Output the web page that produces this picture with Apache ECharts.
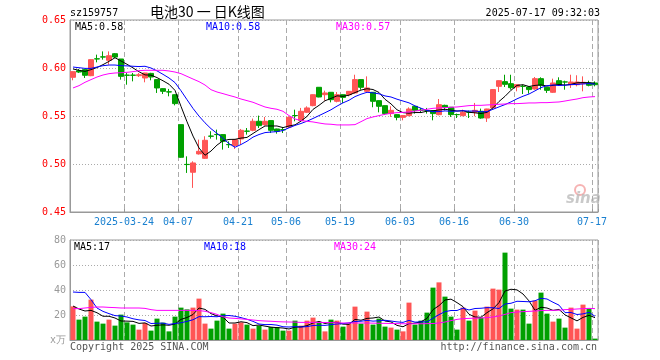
<!DOCTYPE html>
<html>
<head>
<meta charset="utf-8">
<script src="https://cdn.jsdelivr.net/npm/echarts@6/dist/echarts.min.js"></script>
<style>
html,body{margin:0;padding:0;background:#fff;}
#c{width:660px;height:360px;}
</style>
</head>
<body>
<div id="c"></div>
<script>
var dates = ["2025-03-11","2025-03-12","2025-03-13","2025-03-14","2025-03-17","2025-03-18","2025-03-19","2025-03-20","2025-03-21",
"2025-03-24","2025-03-25","2025-03-26","2025-03-27","2025-03-28","2025-03-31","2025-04-01","2025-04-02","2025-04-03",
"2025-04-07","2025-04-08","2025-04-09","2025-04-10","2025-04-11","2025-04-14","2025-04-15","2025-04-16","2025-04-17","2025-04-18",
"2025-04-21","2025-04-22","2025-04-23","2025-04-24","2025-04-25","2025-04-28","2025-04-29","2025-04-30",
"2025-05-06","2025-05-07","2025-05-08","2025-05-09","2025-05-12","2025-05-13","2025-05-14","2025-05-15","2025-05-16",
"2025-05-19","2025-05-20","2025-05-21","2025-05-22","2025-05-23","2025-05-26","2025-05-27","2025-05-28","2025-05-29","2025-05-30",
"2025-06-03","2025-06-04","2025-06-05","2025-06-06","2025-06-09","2025-06-10","2025-06-11","2025-06-12","2025-06-13",
"2025-06-16","2025-06-17","2025-06-18","2025-06-19","2025-06-20","2025-06-23","2025-06-24","2025-06-25","2025-06-26","2025-06-27",
"2025-06-30","2025-07-01","2025-07-02","2025-07-03","2025-07-04","2025-07-07","2025-07-08","2025-07-09","2025-07-10","2025-07-11",
"2025-07-14","2025-07-15","2025-07-16","2025-07-17"];

var tickDates = ["2025-03-24","2025-04-07","2025-04-21","2025-05-06","2025-05-19","2025-06-03","2025-06-16","2025-06-30","2025-07-17"];

var opens = [0.5903,0.5972,0.5983,0.5920,0.6096,0.6116,0.6080,0.6149,0.6094,0.5926,0.5926,0.5920,0.5896,0.5944,0.5879,0.5785,0.5752,0.5722,
0.5410,0.4996,0.4914,0.5105,0.5059,0.5291,0.5308,0.5306,0.5203,0.5192,0.5261,0.5343,0.5351,0.5445,0.5410,0.5452,0.5365,0.5358,
0.5386,0.5505,0.5452,0.5539,0.5608,0.5799,0.5722,0.5747,0.5653,0.5722,0.5722,0.5740,0.5879,0.5757,0.5747,0.5660,0.5608,0.5525,0.5514,
0.5486,0.5504,0.5601,0.5561,0.5558,0.5556,0.5514,0.5611,0.5591,0.5515,0.5504,0.5540,0.5539,0.5549,0.5479,0.5584,0.5809,0.5858,0.5837,
0.5802,0.5810,0.5802,0.5781,0.5889,0.5799,0.5747,0.5868,0.5855,0.5826,0.5826,0.5837,0.5844,0.5844];
var closes = [0.5962,0.5958,0.5924,0.6087,0.6094,0.6114,0.6128,0.6114,0.5913,0.5924,0.5924,0.5930,0.5948,0.5906,0.5792,0.5757,0.5750,0.5629,
0.5070,0.4994,0.5011,0.5132,0.5247,0.5289,0.5306,0.5236,0.5201,0.5254,0.5351,0.5341,0.5445,0.5400,0.5445,0.5351,0.5341,0.5356,
0.5486,0.5504,0.5549,0.5584,0.5722,0.5698,0.5740,0.5670,0.5722,0.5694,0.5757,0.5879,0.5799,0.5792,0.5653,0.5601,0.5525,0.5559,0.5486,
0.5504,0.5573,0.5559,0.5559,0.5556,0.5525,0.5618,0.5591,0.5514,0.5514,0.5539,0.5538,0.5559,0.5479,0.5573,0.5775,0.5868,0.5830,0.5795,
0.5826,0.5809,0.5775,0.5889,0.5820,0.5767,0.5844,0.5826,0.5854,0.5854,0.5854,0.5851,0.5820,0.5826];
var lows = [0.5872,0.5948,0.5896,0.5915,0.6059,0.6087,0.6035,0.6104,0.5879,0.5826,0.5861,0.5906,0.5851,0.5872,0.5740,0.5729,0.5705,0.5611,
0.5065,0.4907,0.4751,0.5098,0.5052,0.5264,0.5254,0.5150,0.5167,0.5157,0.5202,0.5306,0.5341,0.5375,0.5400,0.5323,0.5316,0.5323,
0.5375,0.5445,0.5445,0.5532,0.5601,0.5695,0.5660,0.5642,0.5642,0.5636,0.5705,0.5733,0.5774,0.5747,0.5591,0.5538,0.5511,0.5490,0.5455,
0.5455,0.5497,0.5525,0.5539,0.5525,0.5455,0.5507,0.5559,0.5490,0.5479,0.5497,0.5479,0.5497,0.5472,0.5438,0.5580,0.5750,0.5802,0.5774,
0.5757,0.5729,0.5733,0.5774,0.5774,0.5740,0.5740,0.5816,0.5774,0.5792,0.5809,0.5757,0.5809,0.5809];
var highs = [0.5965,0.5990,0.5990,0.6090,0.6139,0.6173,0.6173,0.6156,0.6094,0.5948,0.5948,0.5948,0.5950,0.5950,0.5880,0.5790,0.5782,0.5725,
0.5410,0.5080,0.5028,0.5254,0.5289,0.5341,0.5358,0.5310,0.5236,0.5256,0.5365,0.5375,0.5473,0.5504,0.5490,0.5455,0.5368,0.5386,
0.5497,0.5566,0.5584,0.5601,0.5725,0.5802,0.5764,0.5750,0.5750,0.5725,0.5760,0.5930,0.5882,0.5913,0.5750,0.5663,0.5610,0.5601,0.5517,
0.5507,0.5590,0.5604,0.5584,0.5584,0.5558,0.5677,0.5618,0.5594,0.5525,0.5566,0.5556,0.5636,0.5577,0.5575,0.5780,0.5870,0.5930,0.5930,
0.5830,0.5826,0.5805,0.5906,0.5903,0.5802,0.5889,0.5903,0.5868,0.5930,0.5924,0.5913,0.5868,0.5861];

var ma5 = [0.5990,0.5976,0.5965,0.5983,0.6005,0.6035,0.6069,0.6107,0.6073,0.6039,0.6001,0.5961,0.5928,0.5926,0.5900,0.5867,0.5831,0.5767,
0.5600,0.5440,0.5291,0.5167,0.5091,0.5135,0.5197,0.5242,0.5256,0.5257,0.5270,0.5277,0.5318,0.5358,0.5396,0.5396,0.5396,0.5379,
0.5396,0.5408,0.5447,0.5496,0.5569,0.5611,0.5659,0.5683,0.5710,0.5705,0.5717,0.5744,0.5770,0.5784,0.5776,0.5745,0.5674,0.5626,0.5565,
0.5535,0.5529,0.5536,0.5536,0.5550,0.5554,0.5563,0.5570,0.5561,0.5552,0.5555,0.5539,0.5533,0.5526,0.5538,0.5585,0.5651,0.5705,0.5768,
0.5819,0.5826,0.5807,0.5819,0.5824,0.5812,0.5819,0.5829,0.5822,0.5829,0.5846,0.5848,0.5847,0.5841];
var ma10 = [0.6010,0.6003,0.5996,0.5996,0.6010,0.6024,0.6031,0.6031,0.6024,0.6022,0.6018,0.6015,0.6018,0.6000,0.5970,0.5934,0.5896,0.5848,
0.5763,0.5670,0.5579,0.5499,0.5429,0.5368,0.5319,0.5267,0.5212,0.5174,0.5203,0.5237,0.5280,0.5307,0.5327,0.5333,0.5337,0.5349,
0.5377,0.5402,0.5422,0.5446,0.5474,0.5504,0.5534,0.5565,0.5603,0.5637,0.5664,0.5702,0.5727,0.5747,0.5741,0.5731,0.5709,0.5698,0.5675,
0.5656,0.5637,0.5605,0.5581,0.5558,0.5545,0.5546,0.5553,0.5549,0.5551,0.5555,0.5551,0.5552,0.5544,0.5545,0.5570,0.5595,0.5619,0.5647,
0.5679,0.5706,0.5729,0.5762,0.5796,0.5816,0.5823,0.5818,0.5821,0.5827,0.5829,0.5834,0.5838,0.5832];
var ma30 = [0.5792,0.5816,0.5851,0.5879,0.5906,0.5927,0.5941,0.5948,0.5951,0.5955,0.5962,0.5972,0.5976,0.5976,0.5976,0.5976,0.5969,0.5958,
0.5941,0.5913,0.5885,0.5858,0.5823,0.5774,0.5750,0.5733,0.5715,0.5698,0.5677,0.5660,0.5643,0.5618,0.5594,0.5580,0.5570,0.5549,
0.5504,0.5469,0.5452,0.5445,0.5438,0.5427,0.5417,0.5414,0.5407,0.5407,0.5407,0.5410,0.5441,0.5473,0.5490,0.5504,0.5518,0.5528,0.5535,
0.5538,0.5542,0.5552,0.5559,0.5570,0.5580,0.5584,0.5587,0.5591,0.5594,0.5601,0.5608,0.5611,0.5611,0.5615,0.5618,0.5622,0.5625,0.5629,
0.5629,0.5632,0.5636,0.5636,0.5639,0.5639,0.5643,0.5646,0.5656,0.5667,0.5677,0.5691,0.5698,0.5702];

var volumes = [26.9,16.3,18.7,32.3,14.7,13.1,16.3,11.5,20.3,14.1,12.3,8.3,13.6,7.5,17.1,13.9,6.9,18.7,
25.9,24.5,25.9,33.1,13.1,9.1,15.5,21.1,9.1,13.1,14.1,12.3,9.1,11.5,8.3,10.4,10.4,7.5,
7.5,15.5,11.5,15.5,17.9,14.1,6.9,16.3,15.5,10.7,13.1,26.7,13.1,22.7,12.3,17.1,10.7,9.9,8.3,
6.9,29.9,12.3,15.5,21.9,41.9,46.1,34.7,18.7,8.3,25.9,15.5,23.5,17.9,26.7,41.1,40.3,69.9,25.1,
24.3,24.3,13.1,31.5,37.9,21.1,14.7,17.1,9.9,25.9,9.1,28.3,25.1,1.1];
var volMa5 = [27.2,24.8,23.2,23.7,21.8,19.0,19.0,17.6,15.2,15.1,14.9,13.3,13.7,11.2,11.8,12.1,11.8,12.8,
16.5,18.0,20.4,25.6,24.5,21.1,19.3,18.4,13.6,13.6,14.6,13.9,11.5,12.0,11.1,10.3,9.9,9.6,
8.8,10.3,10.5,11.5,13.6,14.9,13.2,14.1,14.1,12.7,12.5,16.5,15.8,17.3,17.6,18.4,15.2,14.5,11.7,
10.6,13.1,13.5,14.6,17.3,24.3,27.5,32.0,32.7,29.9,26.7,20.6,18.4,18.2,21.9,24.9,29.9,39.2,40.6,
40.1,36.8,31.3,23.7,26.2,25.6,23.7,24.5,20.1,17.7,15.3,18.1,19.7,17.9];
var volMa10 = [38.4,38.1,38.1,32.3,25.6,22.9,21.1,19.5,19.2,18.4,17.0,16.1,15.6,13.2,13.4,13.5,12.5,13.2,
13.8,14.9,16.2,18.7,18.6,18.8,18.6,19.4,19.6,19.0,17.9,16.6,14.9,12.8,12.3,12.4,11.9,10.6,
10.4,10.7,10.4,10.7,11.6,11.8,11.7,12.3,12.8,13.1,13.7,14.8,15.0,15.7,15.1,15.4,15.8,15.2,14.5,
14.1,15.7,14.3,14.5,14.5,17.4,20.3,22.7,23.6,23.6,25.5,24.0,25.2,25.4,25.9,25.8,25.2,28.8,29.4,
31.0,30.8,30.6,31.4,33.4,32.8,30.2,27.9,21.9,22.0,20.4,20.9,22.1,19.0];
var volMa30 = [25.1,25.1,25.6,26.1,26.4,26.4,26.1,25.9,25.6,25.6,25.6,25.6,25.3,24.3,23.7,23.7,23.7,23.7,
23.7,23.7,23.7,23.5,23.0,21.9,20.5,18.5,17.6,17.3,16.9,16.5,16.0,15.5,15.2,15.0,14.7,14.5,
14.4,14.3,14.1,14.1,14.1,14.1,14.0,13.9,13.8,13.6,13.6,13.6,13.6,13.6,13.5,13.4,13.3,13.2,13.1,
13.0,13.0,13.0,13.0,13.1,13.2,13.6,14.4,15.5,16.5,17.1,17.3,17.5,17.6,17.9,18.4,19.2,20.5,21.9,
22.4,22.7,22.9,23.2,23.5,23.7,23.7,23.9,24.3,24.5,24.8,25.1,25.3,25.1];

var priceTicks = [0.45, 0.50, 0.55, 0.60, 0.65];
var volTicks = [0, 20, 40, 60, 80];

var UP = '#ff5555', DOWN = '#00a000';
var MONO = 'DejaVu Sans Mono';

var candleData = dates.map(function (d, i) { return [opens[i], closes[i], lows[i], highs[i]]; });
var volData = volumes.map(function (v, i) {
  return { value: v, itemStyle: { color: closes[i] > opens[i] ? UP : DOWN } };
});
function isTick(index) { return tickDates.indexOf(dates[index]) >= 0; }

function xAxisCfg(gridIndex, showLabel) {
  return {
    type: 'category', gridIndex: gridIndex, data: dates, boundaryGap: true,
    axisLine: { show: true, lineStyle: { color: '#999', width: 1 } },
    axisTick: { show: showLabel, inside: true, length: 3, interval: function (i) { return isTick(i); }, lineStyle: { color: '#999' } },
    axisLabel: {
      show: showLabel, interval: function (i) { return isTick(i); },
      color: '#1a80d0', fontFamily: MONO, fontSize: 10, margin: 5, padding: [0, 6, 0, 0],
      formatter: function (v) { return v === tickDates[0] ? v : v.slice(5); }
    },
    splitLine: { show: true, interval: function (i) { return isTick(i); }, lineStyle: { color: '#aaa', type: [5, 3], width: 1 } }
  };
}

var chart = echarts.init(document.getElementById('c'), null, { renderer: 'canvas' });
chart.setOption({
  animation: false,
  backgroundColor: '#fff',
  grid: [
    { left: 70, top: 20, width: 528, height: 192, show: true, borderColor: '#999', borderWidth: 1 },
    { left: 70, top: 240, width: 528, height: 100, show: true, borderColor: '#999', borderWidth: 1 }
  ],
  xAxis: [xAxisCfg(0, true), xAxisCfg(1, false)],
  yAxis: [
    {
      type: 'value', gridIndex: 0, min: priceTicks[0], max: priceTicks[priceTicks.length - 1], interval: 0.05,
      axisLine: { show: true, lineStyle: { color: '#999' } }, axisTick: { show: false },
      axisLabel: { color: '#ff0000', fontFamily: MONO, fontSize: 10, margin: 4, formatter: function (v) { return v.toFixed(2); } },
      splitLine: { show: true, lineStyle: { color: '#aaa', type: [1, 2] } }
    },
    {
      type: 'value', gridIndex: 1, min: volTicks[0], max: volTicks[volTicks.length - 1], interval: 20,
      axisLine: { show: true, lineStyle: { color: '#999' } }, axisTick: { show: false },
      axisLabel: { color: '#999', fontFamily: MONO, fontSize: 10, margin: 4, formatter: function (v) { return v === 0 ? 'x万' : String(v); } },
      splitLine: { show: true, lineStyle: { color: '#aaa', type: [1, 2] } }
    }
  ],
  series: [
    {
      type: 'candlestick', xAxisIndex: 0, yAxisIndex: 0, data: candleData, barWidth: 5,
      itemStyle: { color: UP, color0: DOWN, borderColor: UP, borderColor0: DOWN, borderWidth: 1 },
      emphasis: { disabled: true }
    },
    { type: 'line', xAxisIndex: 0, yAxisIndex: 0, data: ma5, symbol: 'none', lineStyle: { color: '#000', width: 1 }, emphasis: { disabled: true } },
    { type: 'line', xAxisIndex: 0, yAxisIndex: 0, data: ma10, symbol: 'none', lineStyle: { color: '#0000ff', width: 1 }, emphasis: { disabled: true } },
    { type: 'line', xAxisIndex: 0, yAxisIndex: 0, data: ma30, symbol: 'none', lineStyle: { color: '#ff00ff', width: 1 }, emphasis: { disabled: true } },
    { type: 'bar', xAxisIndex: 1, yAxisIndex: 1, data: volData, barWidth: 5, emphasis: { disabled: true } },
    { type: 'line', xAxisIndex: 1, yAxisIndex: 1, data: volMa5, symbol: 'none', lineStyle: { color: '#000', width: 1 }, emphasis: { disabled: true } },
    { type: 'line', xAxisIndex: 1, yAxisIndex: 1, data: volMa10, symbol: 'none', lineStyle: { color: '#0000ff', width: 1 }, emphasis: { disabled: true } },
    { type: 'line', xAxisIndex: 1, yAxisIndex: 1, data: volMa30, symbol: 'none', lineStyle: { color: '#ff00ff', width: 1 }, emphasis: { disabled: true } }
  ],
  graphic: [
    { type: 'text', x: 70, y: 13, style: { text: 'sz159757', fill: '#000', font: '10px "DejaVu Sans Mono"', textVerticalAlign: 'middle' } },
    { type: 'text', x: 150, y: 12, style: { text: '电池30 一 日K线图', fill: '#000', font: '14px "Noto Sans CJK SC"', textVerticalAlign: 'middle' } },
    { type: 'text', x: 600, y: 13, style: { text: '2025-07-17 09:32:03', fill: '#000', font: '10px "DejaVu Sans Mono"', textAlign: 'right', textVerticalAlign: 'middle' } },
    { type: 'text', x: 75, y: 27, style: { text: 'MA5:0.58', fill: '#000', font: '10px "DejaVu Sans Mono"', textVerticalAlign: 'middle' } },
    { type: 'text', x: 206, y: 27, style: { text: 'MA10:0.58', fill: '#0000ff', font: '10px "DejaVu Sans Mono"', textVerticalAlign: 'middle' } },
    { type: 'text', x: 336, y: 27, style: { text: 'MA30:0.57', fill: '#ff00ff', font: '10px "DejaVu Sans Mono"', textVerticalAlign: 'middle' } },
    { type: 'text', x: 74, y: 247, style: { text: 'MA5:17', fill: '#000', font: '10px "DejaVu Sans Mono"', textVerticalAlign: 'middle' } },
    { type: 'text', x: 204, y: 247, style: { text: 'MA10:18', fill: '#0000ff', font: '10px "DejaVu Sans Mono"', textVerticalAlign: 'middle' } },
    { type: 'text', x: 334, y: 247, style: { text: 'MA30:24', fill: '#ff00ff', font: '10px "DejaVu Sans Mono"', textVerticalAlign: 'middle' } },
    { type: 'text', x: 70, y: 347, style: { text: 'Copyright 2025 SINA.COM', fill: '#555', font: '10px "DejaVu Sans Mono"', textVerticalAlign: 'middle' } },
    { type: 'text', x: 597, y: 347, style: { text: 'http://finance.sina.com.cn', fill: '#555', font: '10px "DejaVu Sans Mono"', textAlign: 'right', textVerticalAlign: 'middle' } },
    { type: 'circle', shape: { cx: 580, cy: 190, r: 5 }, style: { fill: 'none', stroke: '#f08080', lineWidth: 2, opacity: 0.6 }, silent: true },
    { type: 'text', x: 566, y: 199, style: { text: 'sina', fill: '#bbb', font: 'italic bold 15px "DejaVu Sans"', textVerticalAlign: 'middle', opacity: 0.8 }, silent: true }
  ]
});
</script>
</body>
</html>
